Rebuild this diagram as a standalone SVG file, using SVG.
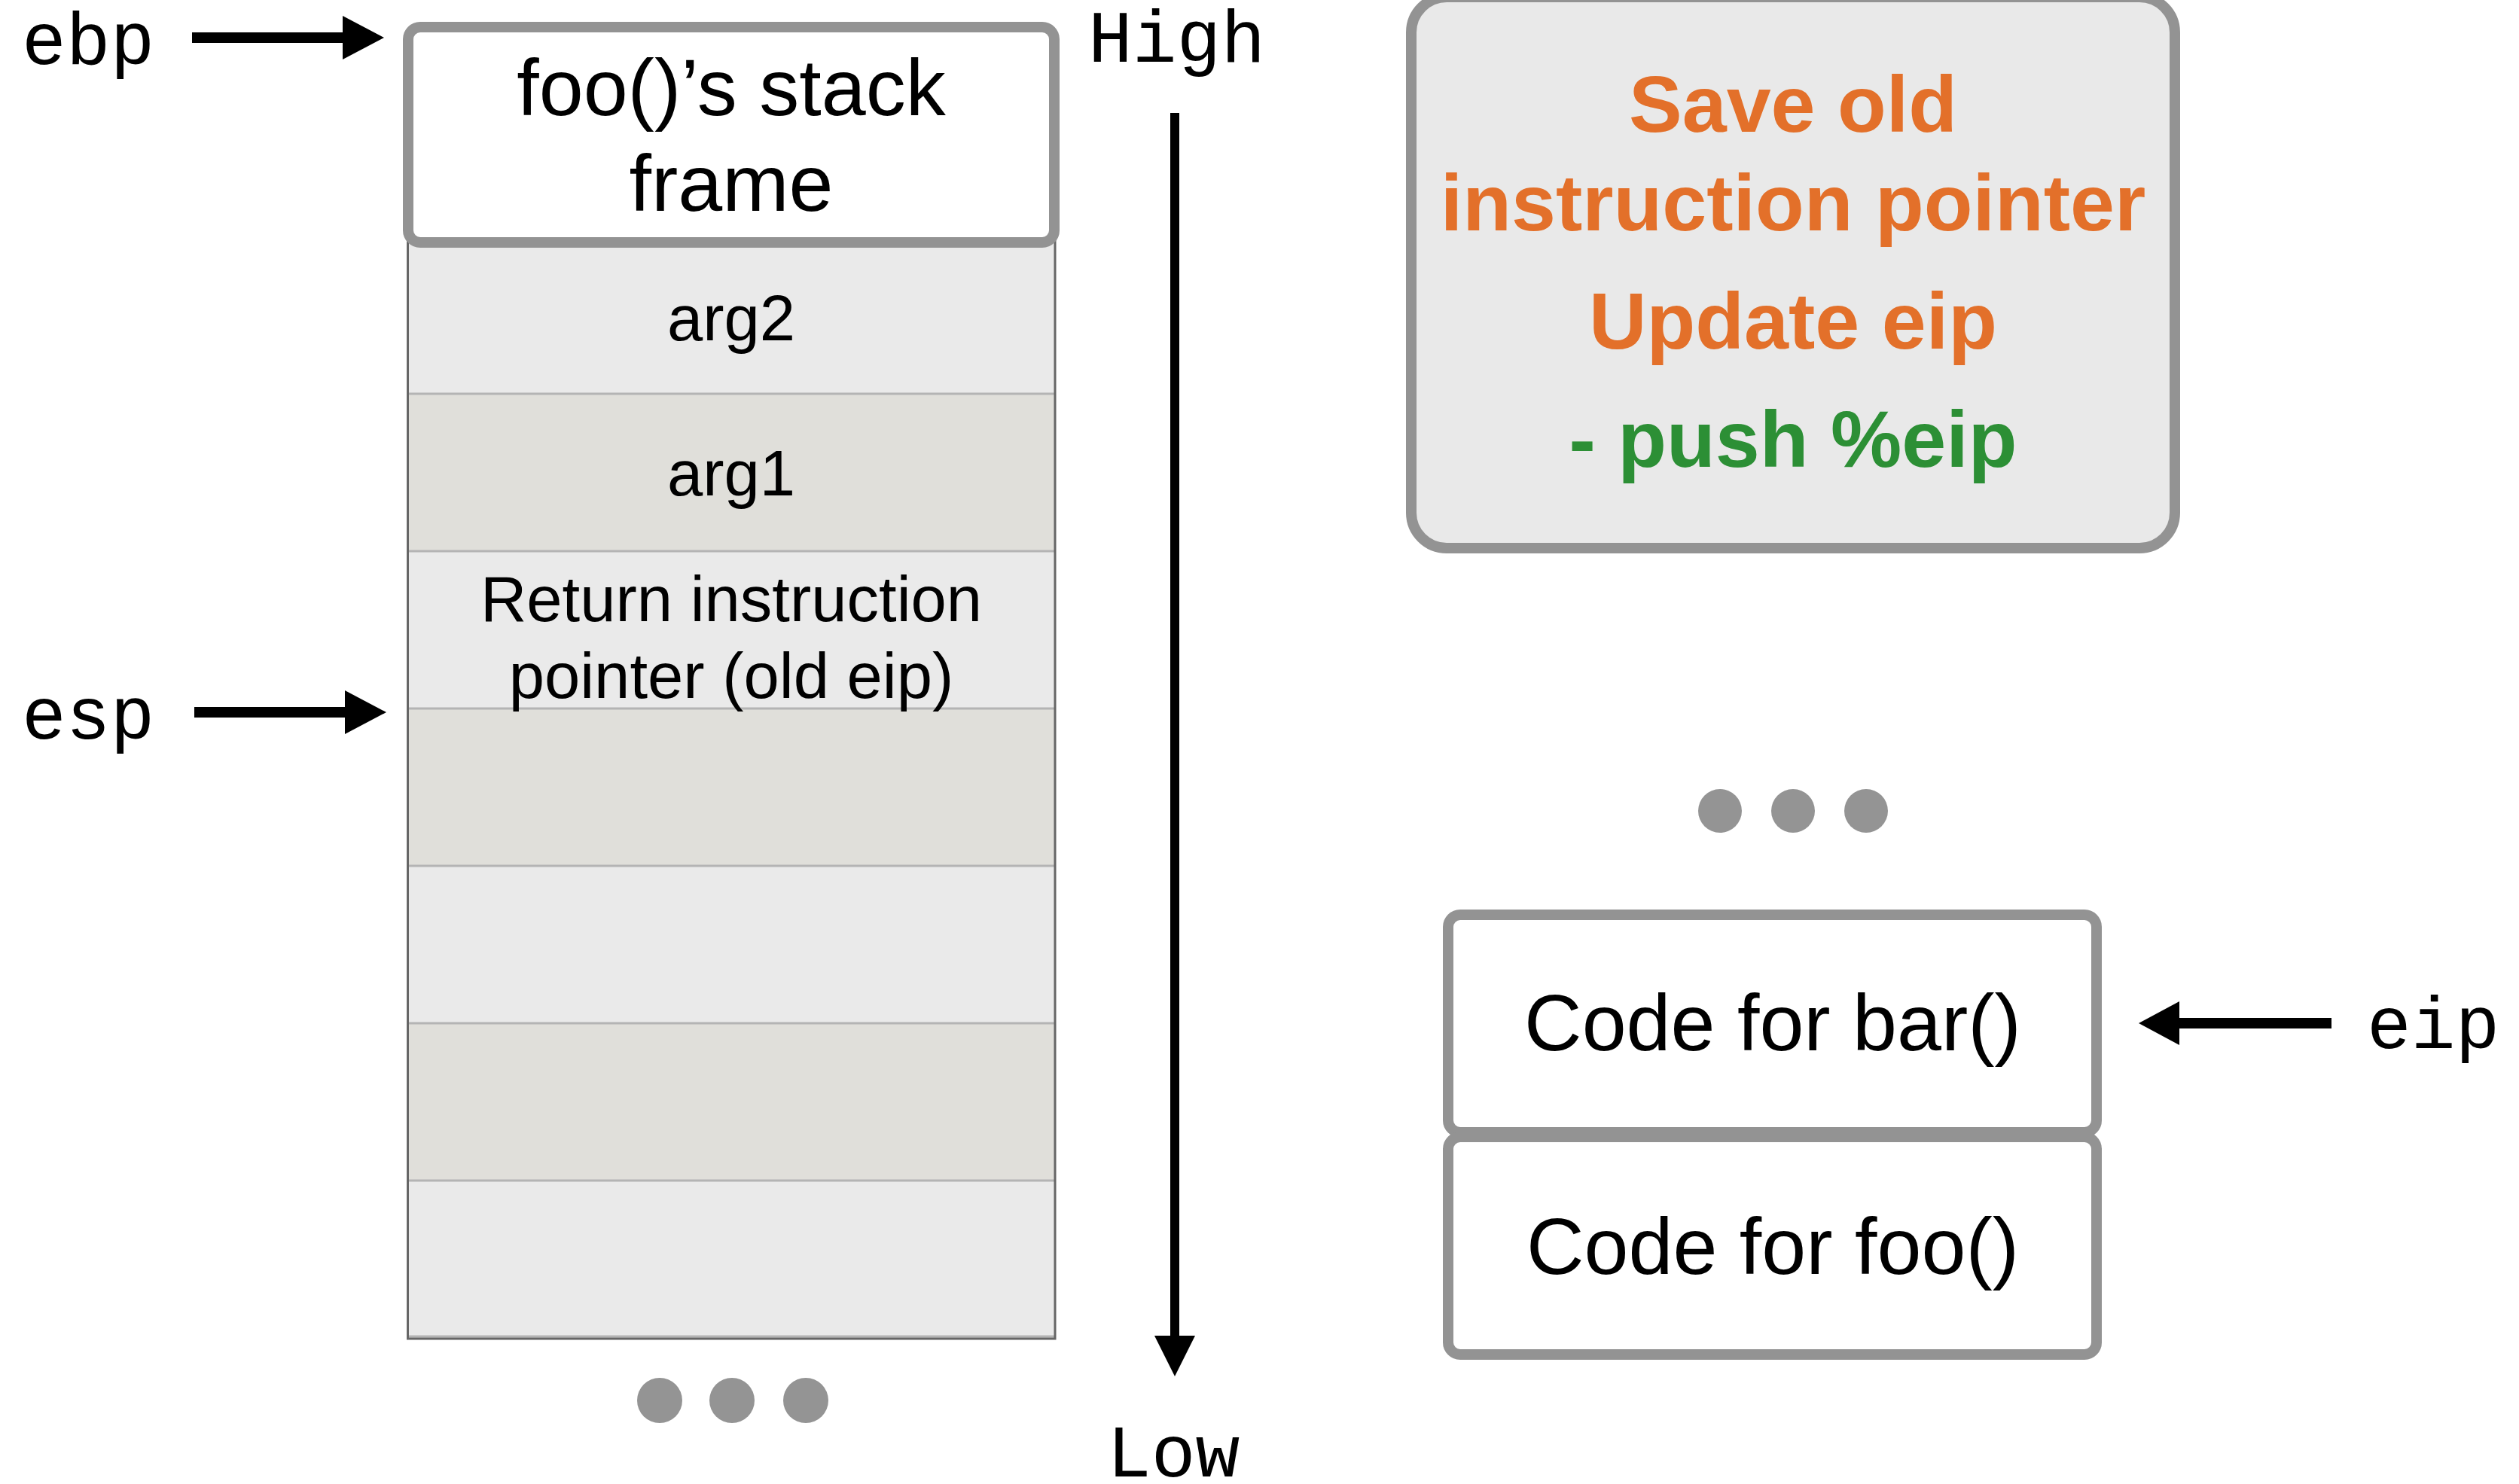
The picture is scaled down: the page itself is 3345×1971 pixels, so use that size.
<svg xmlns="http://www.w3.org/2000/svg" width="3345" height="1971" viewBox="0 0 3345 1971">
  <style>
    .mono { font-family: "Liberation Mono", "Courier New", monospace; font-size: 98px; fill: #000; }
    .cell { font-family: "Liberation Sans", Arial, sans-serif; font-size: 85px; fill: #000; text-anchor: middle; }
    .big { font-family: "Liberation Sans", Arial, sans-serif; font-size: 106px; fill: #000; text-anchor: middle; }
    .note { font-family: "Liberation Sans", Arial, sans-serif; font-size: 106px; font-weight: bold; text-anchor: middle; }
    .orange { fill: #E3702A; }
    .green { fill: #2C8F35; }
    .box { stroke: #939393; stroke-width: 14; }
    .light { fill: #EAEAEA; }
    .dark { fill: #E0DFDA; }
    .divider { stroke: #B4B4B4; stroke-width: 3; }
    .dot { fill: #949494; }
    .arrow { fill: #000; }
  </style>

  <rect width="3345" height="1971" fill="#fff"/>

  <!-- stack cells -->
  <g id="stack">
    <rect class="light" x="541" y="300" width="860" height="223"/>
    <rect class="dark" x="541" y="523" width="860" height="209"/>
    <rect class="light" x="541" y="732" width="860" height="209"/>
    <rect class="dark" x="541" y="941" width="860" height="209"/>
    <rect class="light" x="541" y="1150" width="860" height="209"/>
    <rect class="dark" x="541" y="1359" width="860" height="209"/>
    <rect class="light" x="541" y="1568" width="860" height="210"/>
    <line class="divider" x1="541" y1="523" x2="1401" y2="523"/>
    <line class="divider" x1="541" y1="732" x2="1401" y2="732"/>
    <line class="divider" x1="541" y1="941" x2="1401" y2="941"/>
    <line class="divider" x1="541" y1="1150" x2="1401" y2="1150"/>
    <line class="divider" x1="541" y1="1359" x2="1401" y2="1359"/>
    <line class="divider" x1="541" y1="1568" x2="1401" y2="1568"/>
    <line class="divider" x1="541" y1="1775" x2="1401" y2="1775"/>
    <path d="M541.5 300 V1778 H1401 V300" fill="none" stroke="#666" stroke-width="3"/>
    <text class="cell" x="971" y="452">arg2</text>
    <text class="cell" x="971" y="658">arg1</text>
    <text class="cell" x="971" y="825">Return instruction</text>
    <text class="cell" x="971" y="927">pointer (old eip)</text>
  </g>

  <g id="foo-frame">
    <rect class="box" x="542" y="36" width="858" height="286" rx="16" fill="#fff"/>
    <text class="big" x="971" y="153">foo()’s stack</text>
    <text class="big" x="971" y="280">frame</text>
  </g>

  <g id="stack-more">
    <circle class="dot" cx="876" cy="1860" r="30"/>
    <circle class="dot" cx="972" cy="1860" r="30"/>
    <circle class="dot" cx="1070" cy="1860" r="30"/>
  </g>

  <g id="ebp"><text class="mono" x="29" y="85">ebp</text></g>
  <g id="esp"><text class="mono" x="29" y="981">esp</text></g>
  <g id="high"><text class="mono" x="1445" y="82">High</text></g>
  <g id="low"><text class="mono" x="1470" y="1961">Low</text></g>

  <g id="note">
    <rect class="box" x="1874" y="-4" width="1014" height="732" rx="47" fill="#E9E9E9"/>
    <text class="note orange" x="2381" y="175">Save old</text>
    <text class="note orange" x="2381" y="306">instruction pointer</text>
    <text class="note orange" x="2381" y="463">Update eip</text>
    <text class="note green" x="2381" y="620">- push %eip</text>
  </g>

  <g id="code-more">
    <circle class="dot" cx="2284" cy="1077" r="29"/>
    <circle class="dot" cx="2381" cy="1077" r="29"/>
    <circle class="dot" cx="2478" cy="1077" r="29"/>
  </g>

  <g id="code-bar">
    <rect class="box" x="1923" y="1215" width="861" height="289" rx="16" fill="#fff"/>
    <text class="big" x="2354" y="1395">Code for bar()</text>
  </g>
  <g id="code-foo">
    <rect class="box" x="1923" y="1510" width="861" height="289" rx="16" fill="#fff"/>
    <text class="big" x="2354" y="1692">Code for foo()</text>
  </g>

  <g id="eip"><text class="mono" x="3143" y="1392">eip</text></g>

  <!-- pointer arrows and the address direction arrow -->
  <g id="connectors">
    <rect class="arrow" x="255" y="43" width="202" height="14"/>
    <polygon class="arrow" points="455,21 510,50 455,79"/>
    <rect class="arrow" x="258" y="939" width="202" height="14"/>
    <polygon class="arrow" points="458,917 513,946 458,975"/>
    <rect class="arrow" x="2892" y="1352" width="204" height="14"/>
    <polygon class="arrow" points="2894,1330 2840,1359 2894,1388"/>
    <rect class="arrow" x="1554" y="150" width="12" height="1630"/>
    <polygon class="arrow" points="1533,1774 1587,1774 1560,1828"/>
  </g>
</svg>
